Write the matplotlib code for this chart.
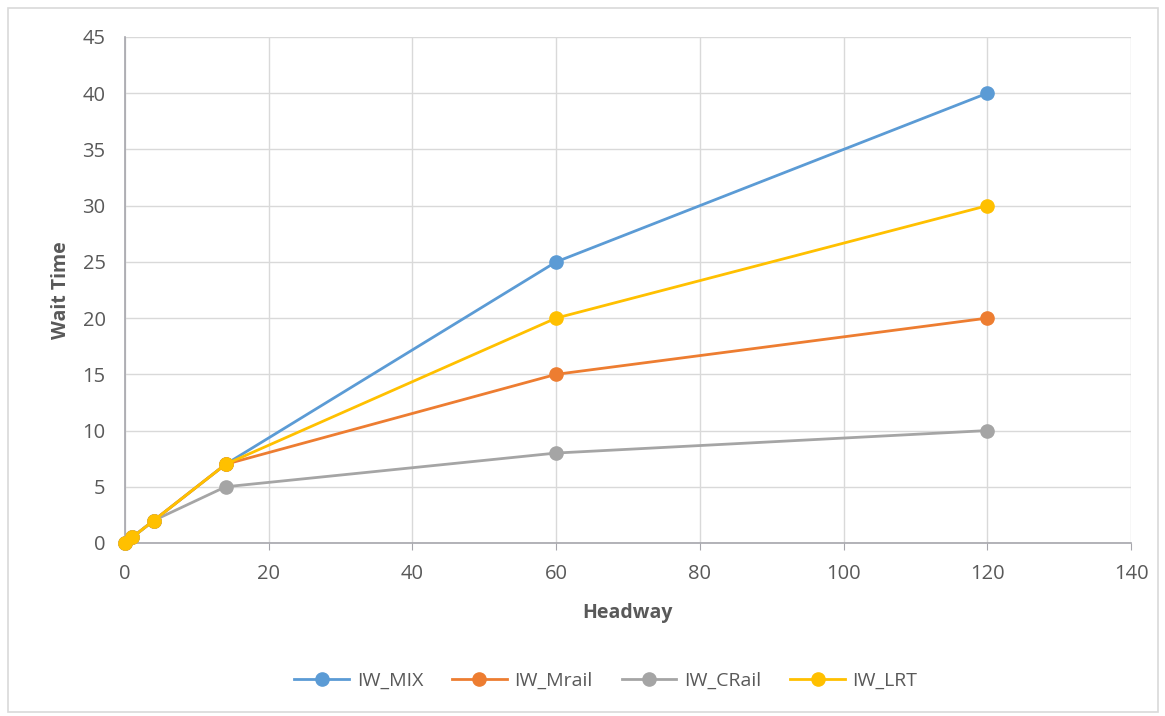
import matplotlib.pyplot as plt
from matplotlib.patches import Rectangle

# Temps d'attente en fonction de l'intervalle de passage
headway = [0, 1, 4, 14, 60, 120]
iw_mix = [0, 0.5, 2, 7, 25, 40]
iw_mrail = [0, 0.5, 2, 7, 15, 20]
iw_crail = [0, 0.5, 2, 5, 8, 10]
iw_lrt = [0, 0.5, 2, 7, 20, 30]

series = [
    ("IW_MIX", iw_mix, "#5B9BD5"),
    ("IW_Mrail", iw_mrail, "#ED7D31"),
    ("IW_CRail", iw_crail, "#A5A5A5"),
    ("IW_LRT", iw_lrt, "#FFC000"),
]

plt.rcParams["font.family"] = ["Open Sans", "DejaVu Sans"]

fig = plt.figure(figsize=(11.65, 7.16), dpi=100)
ax = fig.add_axes([125 / 1165, 1 - 543 / 716, (1131 - 125) / 1165, (543 - 37) / 716])

# cadre extérieur du graphique
fig.patches.append(Rectangle((8 / 1165, 4 / 716), 1150 / 1165, 704 / 716,
                             transform=fig.transFigure, fill=False,
                             edgecolor="#D9D9D9", linewidth=1.2))

for nom, y, couleur in series:
    ax.plot(headway, y, color=couleur, linewidth=2, marker="o", markersize=9.5,
            label=nom, clip_on=False, zorder=3)

ax.set_xlim(0, 140)
ax.set_ylim(0, 45)
ax.set_xticks(range(0, 141, 20))
ax.set_yticks(range(0, 46, 5))
ax.grid(True, color="#D9D9D9", linewidth=1)
ax.set_axisbelow(True)
for s in ["top", "right"]:
    ax.spines[s].set_visible(False)
for s in ["left", "bottom"]:
    ax.spines[s].set_color("#A6A6AC")
    ax.spines[s].set_linewidth(1.2)
ax.tick_params(axis="both", colors="#595959", labelsize=14.5, length=0)
ax.tick_params(axis="y", pad=14)
ax.tick_params(axis="x", length=5, color="#A6A6AC", direction="out", pad=10)

ax.set_xlabel("Headway", fontsize=14, fontweight="bold", color="#595959", labelpad=14)
ax.set_ylabel("Wait Time", fontsize=14, fontweight="bold", color="#595959", labelpad=8)

fig.legend(loc="center", bbox_to_anchor=(606 / 1165, 1 - 681 / 716), ncol=4,
           frameon=False, fontsize=14, labelcolor="#595959", handlelength=2.8,
           columnspacing=1.5, handletextpad=0.4)

fig.savefig("out.png", dpi=100)
